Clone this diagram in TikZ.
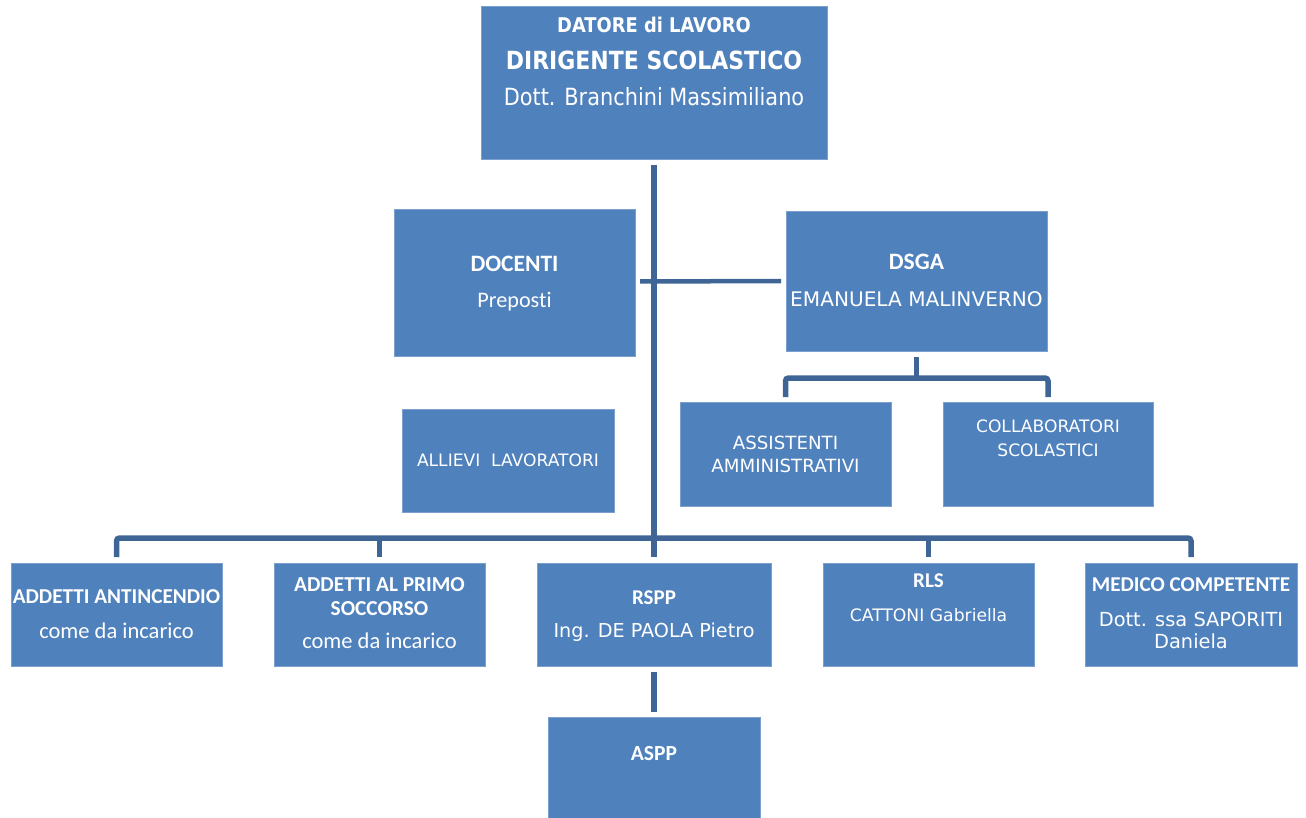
\documentclass[tikz,border=0pt]{standalone}
\usepackage{fontspec}
\setmainfont[Ligatures=NoCommon]{Carlito}
\newfontfamily\tahc[FakeStretch=0.88]{DejaVu Sans}
\newfontfamily\dvs{DejaVu Sans}
\newcommand\myfs[1]{\fontsize{#1}{#1}\selectfont}
\definecolor{boxfill}{HTML}{4F81BD}
\definecolor{boxedge}{HTML}{7B9FCF}
\definecolor{linec}{RGB}{63,101,150}
\begin{document}
\begin{tikzpicture}[x=1pt,y=-1pt,
  box/.style={draw=boxedge, line width=0.8pt, fill=boxfill, anchor=north west, inner sep=0pt, outer sep=0pt},
  txt/.style={text=white, inner sep=0pt, anchor=base},
  conn/.style={draw=linec, line width=5.5pt},
  thinconn/.style={draw=linec, line width=4.5pt}]
\useasboundingbox (0,0) rectangle (1306,818);
% boxes
\node[box, minimum width=346, minimum height=153] (top) at (481,6) {};
\node[box, minimum width=241, minimum height=147] (doc) at (394,209) {};
\node[box, minimum width=261, minimum height=140] (dsga) at (786,211) {};
\node[box, minimum width=212, minimum height=103] (all) at (402,409) {};
\node[box, minimum width=211, minimum height=104] (asst) at (680,402) {};
\node[box, minimum width=210, minimum height=104] (coll) at (943,402) {};
\node[box, minimum width=211, minimum height=103] (add1) at (11,563) {};
\node[box, minimum width=211, minimum height=103] (add2) at (274,563) {};
\node[box, minimum width=234, minimum height=103] (rspp) at (537,563) {};
\node[box, minimum width=211, minimum height=103] (rls) at (823,563) {};
\node[box, minimum width=212, minimum height=103] (med) at (1085,563) {};
\node[box, minimum width=212, minimum height=106] (aspp) at (548,717) {};
% texts
\node[txt] (t1) at (654,32.3) {\tahc\bfseries\myfs{20.3}DATORE di LAVORO};
\node[txt] (t2) at (654,70) {\tahc\bfseries\myfs{25}DIRIGENTE SCOLASTICO};
\node[txt] (t3) at (654,106) {\tahc\myfs{23.7}Dott. Branchini Massimiliano};
\node[txt] (d1) at (514.5,272) {\bfseries\myfs{23.5}DOCENTI};
\node[txt] (d2) at (514.5,307) {\myfs{22.2}Preposti};
\node[txt] (s1) at (916.5,270) {\bfseries\myfs{23.5}DSGA};
\node[txt] (s2) at (916.5,306) {\dvs\myfs{20.1}EMANUELA MALINVERNO};
\node[txt] (a1) at (508,466.7) {\dvs\myfs{17.1}ALLIEVI~~LAVORATORI};
\node[txt] (as1) at (785.5,449) {\dvs\myfs{18.2}ASSISTENTI};
\node[txt] (as2) at (785.5,472) {\dvs\myfs{18.2}AMMINISTRATIVI};
\node[txt] (c1) at (1048,432.3) {\dvs\myfs{17.1}COLLABORATORI};
\node[txt] (c2) at (1048,456) {\dvs\myfs{17.1}SCOLASTICI};
\node[txt] (e1) at (116.5,603.3) {\bfseries\myfs{21.2}ADDETTI ANTINCENDIO};
\node[txt] (e2) at (116.5,638.3) {\myfs{22.5}come da incarico};
\node[txt] (f1) at (379.5,591.7) {\bfseries\myfs{21.3}ADDETTI AL PRIMO};
\node[txt] (f2) at (379.5,615.7) {\bfseries\myfs{21.3}SOCCORSO};
\node[txt] (f3) at (379.5,648.3) {\myfs{22.5}come da incarico};
\node[txt] (r1) at (654,604) {\bfseries\myfs{21}RSPP};
\node[txt] (r2) at (654,637.7) {\dvs\myfs{19.2}Ing. DE PAOLA Pietro};
\node[txt] (l1) at (928.5,587) {\bfseries\myfs{21}RLS};
\node[txt] (l2) at (928.5,621) {\dvs\myfs{17.2}CATTONI Gabriella};
\node[txt] (m1) at (1191,591.7) {\bfseries\myfs{21.1}MEDICO COMPETENTE};
\node[txt] (m2) at (1191,626) {\dvs\myfs{19.4}Dott. ssa SAPORITI};
\node[txt] (m3) at (1191,648) {\dvs\myfs{19.4}Daniela};
\node[txt] (p1) at (654,760) {\bfseries\myfs{21.5}ASPP};
% connectors
\coordinate (dsgaL) at (640,281.5);
\coordinate (dbr) at (0,378);
\coordinate (bbr) at (0,538);
\draw[conn] ([yshift=-6]top.south) -- ([yshift=6]rspp.north);
\draw[thinconn] (dsgaL) -- ([xshift=-5]dsga.west);
\draw[conn] ([yshift=-6]dsga.south) -- (dsga.south |- dbr);
\draw[conn, rounded corners=3] ([yshift=5]asst.north) -- (asst.north |- dbr) -- (coll.north |- dbr) -- ([yshift=5]coll.north);
\draw[conn, rounded corners=3] ([yshift=6]add1.north) -- (add1.north |- bbr) -- (med.north |- bbr) -- ([yshift=6]med.north);
\draw[conn] (add2.north |- bbr) -- ([yshift=6]add2.north);
\draw[conn] (rls.north |- bbr) -- ([yshift=6]rls.north);
\draw[conn] ([yshift=-6]rspp.south) -- ([yshift=5]aspp.north);
\end{tikzpicture}
\end{document}
